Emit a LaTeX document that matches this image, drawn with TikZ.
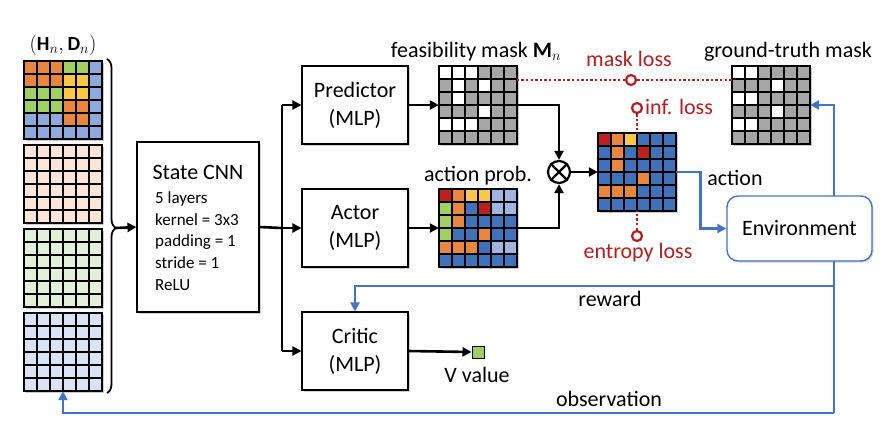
\documentclass[tikz,border=0pt]{standalone}
\usepackage{fontspec}
\setmainfont{Carlito}
\usetikzlibrary{arrows.meta,shadows,decorations.pathreplacing,calc}
\definecolor{org}{RGB}{232,134,64}
\definecolor{grn}{RGB}{160,208,100}
\definecolor{ylw}{RGB}{250,200,70}
\definecolor{gbl}{RGB}{142,170,220}
\definecolor{dbl}{RGB}{65,114,185}
\definecolor{lbl}{RGB}{160,180,226}
\definecolor{rd}{RGB}{185,32,30}
\definecolor{gy}{RGB}{166,166,166}
\definecolor{wh}{RGB}{255,255,255}
\definecolor{peach}{RGB}{251,229,214}
\definecolor{lgrn}{RGB}{226,240,217}
\definecolor{lblu}{RGB}{218,227,243}
\definecolor{lossred}{RGB}{180,30,30}
\definecolor{eblue}{RGB}{68,114,196}
\newcommand{\cellgrid}[3]{%
  \foreach \cl [count=\k from 0] in {#3} {%
    \pgfmathtruncatemacro\cc{mod(\k,6)}%
    \pgfmathtruncatemacro\rr{div(\k,6)}%
    \filldraw[fill=\cl, draw=black, line width=1.1pt] ({#1+\cc*13},{#2+\rr*13}) rectangle ++(13,13);
  }}
\newcommand{\plaingrid}[3]{%
  \foreach \rr in {0,...,5} {\foreach \cc in {0,...,5} {%
    \filldraw[fill=#3, draw=black, line width=1.1pt] ({#1+\cc*13},{#2+\rr*13}) rectangle ++(13,13);
  }}}
\begin{document}
\begin{tikzpicture}[x=1pt,y=-1pt,
  box/.style={draw=black, line width=1.1pt, fill=white, drop shadow={opacity=0.35, shadow xshift=1.5pt, shadow yshift=-1.5pt}, inner sep=0pt},
  gridbox/.style={fill=white, minimum size=78pt, inner sep=0pt, drop shadow={opacity=0.4, shadow xshift=1.5pt, shadow yshift=-1.5pt}},
  arr/.style={-{Triangle[length=9pt,width=9pt]}, line width=2.6pt, black},
  barr/.style={-{Triangle[length=9pt,width=9pt]}, line width=2.6pt, eblue},
  txt/.style={font=\fontsize{22}{28}\selectfont, inner sep=0pt, align=center},
  losstxt/.style={font=\fontsize{22}{26}\selectfont, inner sep=0pt, text=lossred},
  losscirc/.style={circle, draw=lossred, line width=2.2pt, fill=white, minimum size=10pt, inner sep=0pt},
  lossdot/.style={lossred, line width=2.4pt, dash pattern=on 2.4pt off 2.2pt}]
\useasboundingbox[fill=white] (0,0) rectangle (892,440);

% ---- left input grids ----
\node[font=\fontsize{20}{24}\selectfont, inner sep=0pt] (hd) at (63,45) {$(\mathbf{H}_n,\mathbf{D}_n)$};
\node[gridbox] (g1) at (63,100) {};
\cellgrid{24}{61}{org,org,org,grn,grn,gbl, org,org,org,ylw,ylw,gbl, grn,grn,grn,ylw,ylw,gbl, grn,grn,grn,org,org,gbl, gbl,gbl,gbl,org,org,gbl, gbl,gbl,gbl,gbl,gbl,gbl}
\node[gridbox] (g2) at (63,184) {};
\plaingrid{24}{145}{peach}
\node[gridbox] (g3) at (63,268) {};
\plaingrid{24}{229}{lgrn}
\node[gridbox] (g4) at (63,352) {};
\plaingrid{24}{313}{lblu}

\coordinate (brt) at (107,59);
\coordinate (brb) at (107,393);
\coordinate (brtip) at (116,228);
\draw[line width=1.8pt, decorate, decoration={brace, amplitude=9pt, aspect=0.506}] (brt) -- (brb);

% ---- State CNN ----
\node[box, minimum width=122pt, minimum height=170pt] (cnn) at (198,227) {};
\node[font=\fontsize{22}{26}\selectfont, inner sep=0pt] (cnnt) at (198,172) {State CNN};
\node[font=\fontsize{17}{21.8}\selectfont, inner sep=0pt, align=left, anchor=west] (cnnl) at (155,241)
  {5 layers\\kernel = 3x3\\padding = 1\\stride = 1\\ReLU};
\draw[arr] (brtip) -- (cnn.west);

% ---- MLP heads ----
\node[box, txt, minimum width=106pt, minimum height=78pt] (pred) at (355,105) {Predictor\\(MLP)};
\node[box, txt, minimum width=106pt, minimum height=78pt] (act) at (355,228) {Actor\\(MLP)};
\node[box, txt, minimum width=106pt, minimum height=78pt] (crit) at (355,351) {Critic\\(MLP)};

\coordinate (trunk) at (282,228);
\draw[line width=2.6pt] (cnn.east) -- (trunk);
\draw[line width=2.6pt] (trunk |- pred.west) -- (trunk |- crit.west);
\draw[arr] (trunk |- pred.west) -- (pred.west);
\draw[arr] (trunk) -- (act.west);
\draw[arr] (trunk |- crit.west) -- (crit.west);

% ---- feasibility mask ----
\node[txt] (fmt) at (476,52) {feasibility mask $\mathbf{M}_n$};
\node[gridbox] (fm) at (478,105) {};
\cellgrid{439}{66}{wh,wh,wh,gy,gy,gy, gy,wh,gy,wh,gy,gy, gy,wh,gy,gy,gy,gy, gy,gy,gy,wh,gy,gy, wh,wh,wh,gy,gy,gy, gy,gy,gy,gy,gy,gy}

% ---- action prob ----
\node[txt] (apt) at (478,176) {action prob.};
\node[gridbox] (ap) at (478,228) {};
\cellgrid{439}{189}{rd,org,ylw,ylw,lbl,lbl, grn,org,dbl,rd,lbl,lbl, grn,org,dbl,dbl,dbl,dbl, grn,dbl,dbl,org,dbl,dbl, org,org,org,dbl,lbl,lbl, dbl,dbl,dbl,dbl,dbl,dbl}

\draw[arr] (pred.east) -- (fm.west);
\draw[arr] (act.east) -- (ap.west);

% ---- otimes ----
\node[circle, draw=black, line width=2.2pt, minimum size=22pt, inner sep=0pt, fill=white] (ot) at (559,172) {};
\draw[line width=2.2pt] (ot.north west) -- (ot.south east) (ot.north east) -- (ot.south west);
\draw[arr] (fm.east) -| (ot.north);
\draw[arr] (ap.east) -| (ot.south);

% ---- output action grid ----
\node[gridbox] (out) at (637,172) {};
\cellgrid{598}{133}{rd,org,ylw,dbl,dbl,dbl, dbl,org,dbl,rd,dbl,dbl, dbl,org,dbl,dbl,dbl,dbl, dbl,dbl,dbl,org,dbl,dbl, org,org,org,dbl,dbl,dbl, dbl,dbl,dbl,dbl,dbl,dbl}
\draw[arr] (ot.east) -- (out.west);

% ---- ground truth mask ----
\node[txt] (gtt) at (788,52) {ground-truth mask};
\node[gridbox] (gt) at (771,105) {};
\cellgrid{732}{66}{wh,wh,gy,gy,gy,gy, gy,gy,gy,wh,gy,gy, wh,wh,gy,gy,gy,gy, gy,gy,gy,wh,gy,gy, wh,wh,gy,gy,gy,gy, gy,gy,gy,gy,gy,gy}

% ---- losses ----
\node[losscirc] (ml) at (631,80) {};
\draw[lossdot] (ml.west) -- (ml.west -| fm.east);
\draw[lossdot] (ml.east) -- (ml.east -| gt.west);
\node[losstxt] (mlt) at (629,59) {mask loss};
\node[losscirc] (il) at (637,108) {};
\draw[lossdot] (il.south) -- (il.south |- out.north);
\node[losstxt, anchor=west] (ilt) at (645,107) {inf. loss};
\node[losscirc] (el) at (637,236) {};
\draw[lossdot] (el.north) -- (el.north |- out.south);
\node[losstxt] (elt) at (638,253) {entropy loss};

% ---- critic value ----
\node[draw=black, line width=1pt, fill=grn, minimum size=12pt, inner sep=0pt, drop shadow={opacity=0.35, shadow xshift=1pt, shadow yshift=-1pt}] (vv) at (478,352) {};
\draw[arr] (crit.east) -- (vv.west);
\node[txt] (vvt) at (477,375) {V value};

% ---- environment and blue loops ----
\coordinate (rx) at (834,228);
\coordinate (rew) at (834,286);
\coordinate (obs) at (834,413);
\draw[line width=2.6pt, eblue] (rx) -- (obs);
\draw[barr] (rx) -- (rx |- gt.east) -- (gt.east);
\draw[barr] (rew) -- (rew -| crit.north) -- (crit.north);
\draw[barr] (obs) -- (obs -| g4.south) -- (g4.south);
\node[draw=eblue, line width=1.4pt, fill=white, rounded corners=11pt, minimum width=145pt, minimum height=65pt,
  drop shadow={opacity=0.3, shadow xshift=1.5pt, shadow yshift=-1.5pt}, txt] (env) at (799.5,228.5) {Environment};
\draw[barr] (out.east) -- ++(24,0) |- (env.west);
\node[txt] (actt) at (735,178) {action};
\node[txt] (rewt) at (610,299) {reward};
\node[txt] (obst) at (609,399) {observation};
\end{tikzpicture}
\end{document}
